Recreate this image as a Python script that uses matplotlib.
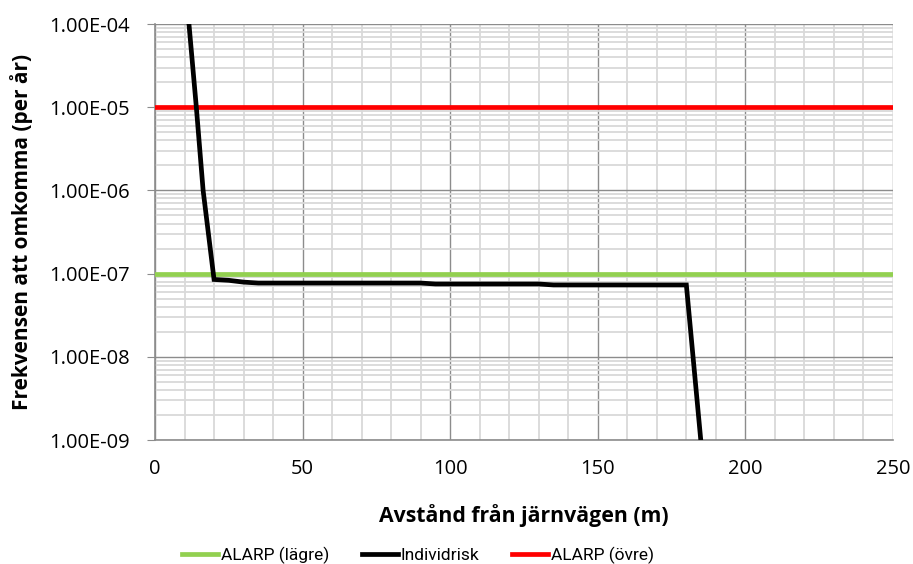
import numpy as np
import matplotlib
matplotlib.use("Agg")
import matplotlib.pyplot as plt
from matplotlib.ticker import LogLocator, FixedLocator, FuncFormatter

# data
dist = [10, 14, 16.3, 20, 25, 30, 35, 40, 50, 60, 70, 80, 90, 95, 100, 110, 120, 130, 135, 140, 150, 160, 170, 180, 185]
risk = [4.0e-4, 1.0e-5, 1.0e-6, 8.5e-8, 8.3e-8, 7.9e-8, 7.7e-8, 7.7e-8, 7.7e-8, 7.7e-8, 7.7e-8, 7.7e-8, 7.7e-8,
        7.5e-8, 7.5e-8, 7.5e-8, 7.5e-8, 7.5e-8, 7.3e-8, 7.3e-8, 7.3e-8, 7.3e-8, 7.3e-8, 7.3e-8, 9.0e-10]
alarp_x = [0, 250]
alarp_low = [1e-7, 1e-7]
alarp_high = [1e-5, 1e-5]

plt.rcParams['font.family'] = ['Open Sans', 'DejaVu Sans']

fig = plt.figure(figsize=(9.13, 5.64), dpi=100)
ax = fig.add_axes([155/913, 1-440/564, (893-155)/913, (440-24)/564])

ax.plot(alarp_x, alarp_low, color='#92D050', lw=3.4, label='ALARP (lägre)', zorder=3)
ax.plot(dist, risk, color='black', lw=3.4, label='Individrisk', zorder=4, solid_joinstyle='miter')
ax.plot(alarp_x, alarp_high, color='#FF0000', lw=3.4, label='ALARP (övre)', zorder=3)

ax.set_yscale('log')
ax.set_xlim(0, 250)
ax.set_ylim(1e-9, 1e-4)
ax.set_xticks(np.arange(0, 251, 50))
ax.xaxis.set_minor_locator(FixedLocator(np.arange(0, 251, 10)))
ax.yaxis.set_major_locator(LogLocator(base=10, numticks=10))
ax.yaxis.set_minor_locator(LogLocator(base=10, subs=np.arange(2, 10), numticks=100))
ax.yaxis.set_major_formatter(FuncFormatter(lambda v, p: '%.2E' % v))

ax.grid(which='minor', color='#D9D9D9', lw=1.3)
ax.grid(which='major', color='#8C8C8C', lw=1.0)
ax.set_axisbelow(True)

for s in ['top', 'right']:
    ax.spines[s].set_visible(False)
for s in ['left', 'bottom']:
    ax.spines[s].set_color('#8C8C8C')
    ax.spines[s].set_linewidth(1.2)

ax.tick_params(axis='y', which='major', length=6, color='#8C8C8C', labelsize=14.5, pad=12)
ax.tick_params(axis='y', which='minor', length=0)
ax.tick_params(axis='x', which='both', length=0, labelsize=14.5, pad=14)

ax.set_xlabel('Avstånd från järnvägen (m)', fontsize=15.3, fontweight='bold')
ax.set_ylabel('Frekvensen att omkomma (per år)', fontsize=15, fontweight='bold')
ax.xaxis.set_label_coords(0.5, -0.155)
ax.yaxis.set_label_coords(-0.165, 0.5)

fig.legend(loc='center', bbox_to_anchor=(418/913, 1-555/564), ncol=3, frameon=False,
           prop={'family': ['Roboto', 'DejaVu Sans'], 'size': 12.5},
           handlelength=2.1, handletextpad=0.17, columnspacing=1.85)

plt.savefig('out.png', dpi=100)
